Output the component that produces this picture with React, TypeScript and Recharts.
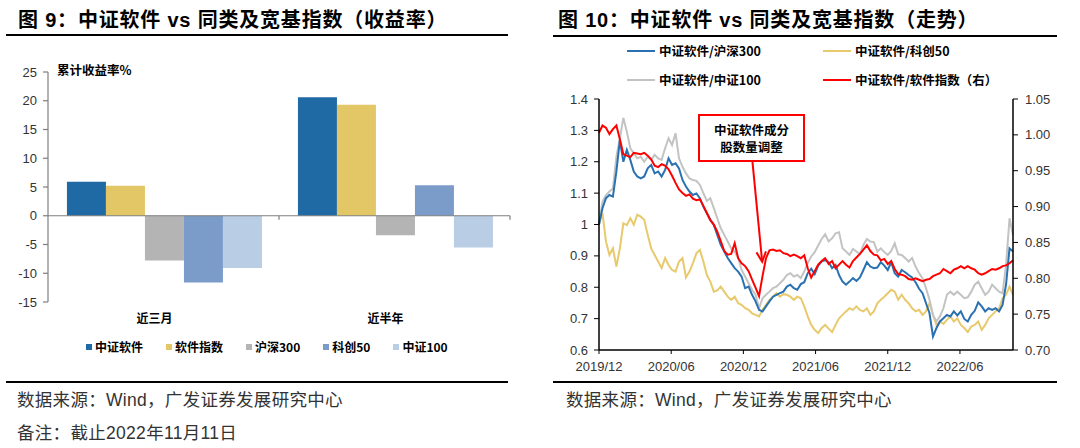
import React from 'react';
import { BarChart, Bar, LineChart, Line, XAxis, YAxis, ReferenceLine } from 'recharts';

// ---- 图9：收益率 ----
const periods = ['近三月', '近半年'];
const barNames = ['中证软件', '软件指数', '沪深300', '科创50', '中证100'];
const barColors = ['#1f69a4', '#e3c666', '#b4b4b4', '#7b9cc8', '#b9cde5'];
const retZzSoftware = [5.9, 20.6];
const retSoftwareIdx = [5.2, 19.3];
const retHs300 = [-7.8, -3.4];
const retKc50 = [-11.6, 5.3];
const retZz100 = [-9.1, -5.5];
const returnTicks = [-15, -10, -5, 0, 5, 10, 15, 20, 25];

// ---- 图10：走势（周度取样） ----
const dateTicks = ['2019/12', '2020/06', '2020/12', '2021/06', '2021/12', '2022/06'];
const lineNames = ['中证软件/沪深300', '中证软件/科创50', '中证软件/中证100', '中证软件/软件指数（右）'];
const lineColors = ['#2971b1', '#e8c96c', '#c3c3c3', '#ff0000'];
const leftTicks = [0.6, 0.7, 0.8, 0.9, 1, 1.1, 1.2, 1.3, 1.4];
const rightTicks = [0.7, 0.75, 0.8, 0.85, 0.9, 0.95, 1.0, 1.05];

const vsHs300 = [
  1.000, 1.052, 1.084, 1.094, 1.089, 1.169, 1.269, 1.200, 1.238, 1.206,
  1.169, 1.153, 1.147, 1.153, 1.179, 1.190, 1.163, 1.169, 1.153, 1.174,
  1.211, 1.190, 1.195, 1.179, 1.142, 1.121, 1.105, 1.094, 1.099, 1.084,
  1.057, 1.036, 1.015, 0.999, 0.967, 0.935, 0.914, 0.893, 0.877, 0.861,
  0.850, 0.834, 0.797, 0.802, 0.776, 0.755, 0.728, 0.723, 0.739, 0.755,
  0.770, 0.776, 0.781, 0.786, 0.802, 0.808, 0.797, 0.792, 0.810, 0.816,
  0.845, 0.859, 0.842, 0.869, 0.882, 0.887, 0.880, 0.861, 0.871, 0.839,
  0.818, 0.808, 0.818, 0.829, 0.820, 0.831, 0.855, 0.880, 0.866, 0.861,
  0.863, 0.880, 0.869, 0.855, 0.880, 0.845, 0.834, 0.855, 0.848, 0.839,
  0.831, 0.816, 0.795, 0.781, 0.749, 0.717, 0.643, 0.670, 0.691, 0.701,
  0.712, 0.707, 0.723, 0.710, 0.723, 0.699, 0.691, 0.712, 0.725, 0.752,
  0.739, 0.723, 0.733, 0.728, 0.733, 0.723, 0.744, 0.808, 0.924, 0.914,
];

const vsKc50 = [
  1.000, 1.036, 0.946, 0.903, 0.924, 0.866, 0.924, 1.004, 0.998, 1.020,
  0.999, 1.031, 1.025, 1.015, 0.967, 0.924, 0.903, 0.882, 0.861, 0.893,
  0.871, 0.855, 0.850, 0.882, 0.893, 0.831, 0.850, 0.877, 0.908, 0.919,
  0.882, 0.839, 0.818, 0.786, 0.790, 0.802, 0.786, 0.770, 0.760, 0.770,
  0.749, 0.744, 0.733, 0.728, 0.717, 0.712, 0.707, 0.728, 0.744, 0.760,
  0.770, 0.781, 0.770, 0.778, 0.776, 0.770, 0.760, 0.770, 0.765, 0.739,
  0.707, 0.680, 0.664, 0.654, 0.670, 0.680, 0.668, 0.657, 0.680, 0.701,
  0.712, 0.723, 0.733, 0.728, 0.739, 0.728, 0.723, 0.733, 0.712, 0.723,
  0.749, 0.760, 0.770, 0.781, 0.792, 0.786, 0.760, 0.776, 0.760, 0.749,
  0.733, 0.723, 0.728, 0.712, 0.723, 0.749, 0.712, 0.680, 0.691, 0.683,
  0.696, 0.707, 0.691, 0.701, 0.680, 0.670, 0.657, 0.675, 0.680, 0.691,
  0.664, 0.680, 0.701, 0.712, 0.723, 0.733, 0.765, 0.776, 0.802, 0.776,
];

const vsZz100 = [
  1.000, 1.073, 1.094, 1.105, 1.115, 1.216, 1.275, 1.340, 1.296, 1.243,
  1.227, 1.211, 1.216, 1.200, 1.216, 1.206, 1.222, 1.211, 1.206, 1.243,
  1.275, 1.253, 1.291, 1.211, 1.184, 1.163, 1.147, 1.142, 1.139, 1.126,
  1.100, 1.075, 1.084, 1.052, 1.020, 0.988, 0.967, 0.946, 0.924, 0.914,
  0.893, 0.855, 0.834, 0.813, 0.792, 0.776, 0.733, 0.765, 0.776, 0.786,
  0.797, 0.802, 0.813, 0.824, 0.839, 0.845, 0.834, 0.839, 0.829, 0.850,
  0.877, 0.898, 0.912, 0.933, 0.954, 0.969, 0.946, 0.956, 0.972, 0.975,
  0.924, 0.914, 0.903, 0.922, 0.914, 0.905, 0.935, 0.954, 0.946, 0.944,
  0.914, 0.924, 0.912, 0.903, 0.916, 0.940, 0.905, 0.903, 0.893, 0.882,
  0.893, 0.866, 0.845, 0.829, 0.797, 0.760, 0.712, 0.691, 0.707, 0.733,
  0.776, 0.786, 0.776, 0.786, 0.776, 0.765, 0.768, 0.786, 0.808, 0.818,
  0.797, 0.776, 0.786, 0.808, 0.797, 0.786, 0.781, 0.871, 1.020, 0.967,
];

const vsSoftIdx = [
  1.003, 1.013, 1.010, 1.001, 1.008, 1.013, 0.994, 0.973, 0.971, 0.969,
  0.975, 0.974, 0.973, 0.975, 0.971, 0.966, 0.957, 0.955, 0.959, 0.957,
  0.952, 0.943, 0.933, 0.924, 0.919, 0.915, 0.917, 0.911, 0.909, 0.910,
  0.901, 0.891, 0.881, 0.875, 0.865, 0.852, 0.838, 0.833, 0.834, 0.849,
  0.828, 0.821, 0.817, 0.810, 0.798, 0.787, 0.775, 0.803, 0.828, 0.839,
  0.840, 0.838, 0.839, 0.835, 0.834, 0.831, 0.833, 0.831, 0.828, 0.832,
  0.814, 0.801, 0.810, 0.819, 0.824, 0.828, 0.820, 0.824, 0.814, 0.819,
  0.824, 0.819, 0.815, 0.824, 0.829, 0.834, 0.840, 0.846, 0.838, 0.833,
  0.832, 0.825, 0.827, 0.820, 0.824, 0.813, 0.806, 0.805, 0.803, 0.799,
  0.798, 0.800, 0.798, 0.796, 0.798, 0.799, 0.803, 0.805, 0.807, 0.813,
  0.810, 0.807, 0.812, 0.814, 0.817, 0.814, 0.817, 0.814, 0.812, 0.807,
  0.805, 0.807, 0.810, 0.813, 0.812, 0.814, 0.817, 0.818, 0.821, 0.825,
];

const FONT_CN = '"Noto Sans CJK SC", sans-serif';
const FONT_NUM = '"Liberation Sans", Arial, "Noto Sans CJK SC", sans-serif';

const barData = periods.map((period, k) => ({
  period,
  [barNames[0]]: retZzSoftware[k],
  [barNames[1]]: retSoftwareIdx[k],
  [barNames[2]]: retHs300[k],
  [barNames[3]]: retKc50[k],
  [barNames[4]]: retZz100[k],
}));

const lineData = vsHs300.map((v, i) => ({
  i,
  hs300: v,
  kc50: vsKc50[i],
  zz100: vsZz100[i],
  soft: vsSoftIdx[i],
}));

// x-axis labels fall every ~20.75 weekly points
const tickStep = 20.75;
const dateTickPos = dateTicks.map((_, k) => k * tickStep);

const ZeroLine = (p: any) => {
  const { x1, y1, x2 } = p;
  const mid = (x1 + x2) / 2;
  return (
    <g stroke="#7f7f7f" strokeWidth={1.2}>
      <line x1={x1} y1={y1} x2={x2} y2={y1} />
      <line x1={mid} y1={y1} x2={mid} y2={y1 + 4} />
      <line x1={x2} y1={y1} x2={x2} y2={y1 + 4} />
    </g>
  );
};

const Arrow = (p: any) => {
  const { x1, y1, x2, y2 } = p;
  const a = Math.atan2(y2 - y1, x2 - x1);
  const h = 11;
  const lx = x2 - h * Math.cos(a - 0.45);
  const ly = y2 - h * Math.sin(a - 0.45);
  const rx = x2 - h * Math.cos(a + 0.45);
  const ry = y2 - h * Math.sin(a + 0.45);
  return (
    <g stroke="#ff0000" strokeWidth={2} fill="none">
      <line x1={x1} y1={y1} x2={x2} y2={y2} />
      <polyline points={`${lx},${ly} ${x2},${y2} ${rx},${ry}`} />
    </g>
  );
};

const PeriodTick = ({ x, y, payload }: any) => (
  <text x={x - 9} y={y} dy={21} textAnchor="middle" fontSize={12} fontWeight={700}
    fontFamily={FONT_CN} fill="#000">
    {payload.value}
  </text>
);

const titleStyle: React.CSSProperties = {
  position: 'absolute', top: 8, fontSize: 20, fontWeight: 700, lineHeight: '24px',
  color: '#000', whiteSpace: 'nowrap', fontFamily: FONT_NUM, letterSpacing: 0.8,
};
const footStyle: React.CSSProperties = {
  position: 'absolute', fontSize: 17.5, lineHeight: '24px', color: '#333',
  whiteSpace: 'nowrap', fontFamily: FONT_NUM, letterSpacing: 0.3,
};
const rule = (left: number, top: number, width: number): React.CSSProperties => ({
  position: 'absolute', left, top, width, height: 2, background: '#000',
});

function ReturnPanel() {
  return (
    <>
      <div style={{ ...titleStyle, left: 18 }}>图 9：中证软件 vs 同类及宽基指数（收益率）</div>
      <div style={rule(6, 34, 502)} />
      <div style={{ position: 'absolute', left: 0, top: 0 }}>
        <BarChart width={540} height={380} data={barData}
          margin={{ top: 72, right: 30, bottom: 48, left: 0 }}
          barCategoryGap="8.2%" barGap={0}>
          <XAxis dataKey="period" axisLine={false} tickLine={false} tickSize={0} tickMargin={0}
            height={30} interval={0} tick={<PeriodTick />} />
          <YAxis width={48} domain={[-15, 25]} ticks={returnTicks} interval={0}
            tickSize={5} tickMargin={6}
            axisLine={{ stroke: '#7f7f7f', strokeWidth: 1.2 }}
            tickLine={{ stroke: '#7f7f7f', strokeWidth: 1.2 }}
            tick={{ fontSize: 13, fill: '#333', fontFamily: FONT_NUM }} />
          {barNames.map((name, k) => (
            <Bar key={name} dataKey={name} fill={barColors[k]} isAnimationActive={false} />
          ))}
          <ReferenceLine y={0} shape={ZeroLine} />
        </BarChart>
      </div>
      <div style={{ position: 'absolute', left: 57, top: 62, fontSize: 12.5, lineHeight: '16px',
        fontWeight: 700, fontFamily: FONT_CN, color: '#000' }}>累计收益率%</div>
      <div style={{ position: 'absolute', left: 86, top: 339, display: 'flex', gap: 23,
        fontSize: 12, lineHeight: '16px', fontWeight: 700, fontFamily: FONT_CN, color: '#000' }}>
        {barNames.map((name, k) => (
          <div key={name} style={{ display: 'flex', alignItems: 'center' }}>
            <span style={{ width: 6, height: 6, background: barColors[k], marginRight: 3 }} />
            {name}
          </div>
        ))}
      </div>
      <div style={rule(6, 381, 502)} />
      <div style={{ ...footStyle, left: 17, top: 388 }}>数据来源：Wind，广发证券发展研究中心</div>
      <div style={{ ...footStyle, left: 17, top: 421 }}>备注：截止2022年11月11日</div>
    </>
  );
}

function TrendPanel() {
  const legendPos = [
    { left: 627, top: 43 },
    { left: 823, top: 43 },
    { left: 627, top: 72 },
    { left: 823, top: 72 },
  ];
  return (
    <>
      <div style={{ ...titleStyle, left: 558 }}>图 10：中证软件 vs 同类及宽基指数（走势）</div>
      <div style={rule(553, 35, 504)} />
      {lineNames.map((name, k) => (
        <div key={name} style={{ position: 'absolute', ...legendPos[k], display: 'flex',
          alignItems: 'center', fontSize: 12.5, lineHeight: '16px', fontWeight: 700,
          fontFamily: FONT_CN, color: '#000', whiteSpace: 'nowrap' }}>
          <span style={{ width: 28, height: 2, background: lineColors[k], marginRight: 4 }} />
          {name}
        </div>
      ))}
      <div style={{ position: 'absolute', left: 540, top: 0 }}>
        <LineChart width={540} height={380} data={lineData}
          margin={{ top: 99, right: 0, bottom: 0, left: 0 }}>
          <XAxis type="number" dataKey="i" domain={[0, 119]} ticks={dateTickPos} interval={0}
            tickFormatter={(v: number) => dateTicks[Math.round(v / tickStep)]}
            height={30} tickSize={4} tickMargin={8}
            axisLine={{ stroke: '#000', strokeWidth: 1.5 }} tickLine={{ stroke: '#000' }}
            tick={{ fontSize: 13, fill: '#333', fontFamily: FONT_NUM }} />
          <YAxis yAxisId="left" width={59} domain={[0.6, 1.4]} ticks={leftTicks} interval={0}
            tickFormatter={(v: number) => (v === 1 ? '1' : v.toFixed(1))}
            tickSize={5} tickMargin={6}
            axisLine={{ stroke: '#000', strokeWidth: 1.5 }} tickLine={{ stroke: '#000' }}
            tick={{ fontSize: 13, fill: '#333', fontFamily: FONT_NUM }} />
          <YAxis yAxisId="right" orientation="right" width={67} domain={[0.7, 1.05]}
            ticks={rightTicks} interval={0} tickFormatter={(v: number) => v.toFixed(2)}
            tickSize={5} tickMargin={7}
            axisLine={{ stroke: '#000', strokeWidth: 1.5 }} tickLine={{ stroke: '#000' }}
            tick={{ fontSize: 13, fill: '#333', fontFamily: FONT_NUM }} />
          <Line yAxisId="left" dataKey="kc50" stroke={lineColors[1]} strokeWidth={2}
            dot={false} activeDot={false} isAnimationActive={false} />
          <Line yAxisId="left" dataKey="zz100" stroke={lineColors[2]} strokeWidth={2}
            dot={false} activeDot={false} isAnimationActive={false} />
          <Line yAxisId="left" dataKey="hs300" stroke={lineColors[0]} strokeWidth={2}
            dot={false} activeDot={false} isAnimationActive={false} />
          <Line yAxisId="right" dataKey="soft" stroke={lineColors[3]} strokeWidth={2}
            dot={false} activeDot={false} isAnimationActive={false} />
          <ReferenceLine yAxisId="right" segment={[{ x: 44.1, y: 0.963 }, { x: 46.9, y: 0.823 }]}
            shape={Arrow} />
        </LineChart>
      </div>
      <div style={{ position: 'absolute', left: 698, top: 114, width: 107, height: 48,
        boxSizing: 'border-box', border: '2px solid #ff0000', background: '#fff',
        display: 'flex', flexDirection: 'column', alignItems: 'center', justifyContent: 'center',
        fontSize: 12.5, lineHeight: '17px', fontWeight: 700, fontFamily: FONT_CN, color: '#000' }}>
        <div>中证软件成分</div>
        <div>股数量调整</div>
      </div>
      <div style={rule(553, 381, 504)} />
      <div style={{ ...footStyle, left: 566, top: 388 }}>数据来源：Wind，广发证券发展研究中心</div>
    </>
  );
}

export default function App() {
  return (
    <div style={{ position: 'absolute', left: 0, top: 0, width: 1080, height: 448,
      background: '#fff', overflow: 'hidden', fontFamily: FONT_NUM }}>
      <ReturnPanel />
      <TrendPanel />
    </div>
  );
}
